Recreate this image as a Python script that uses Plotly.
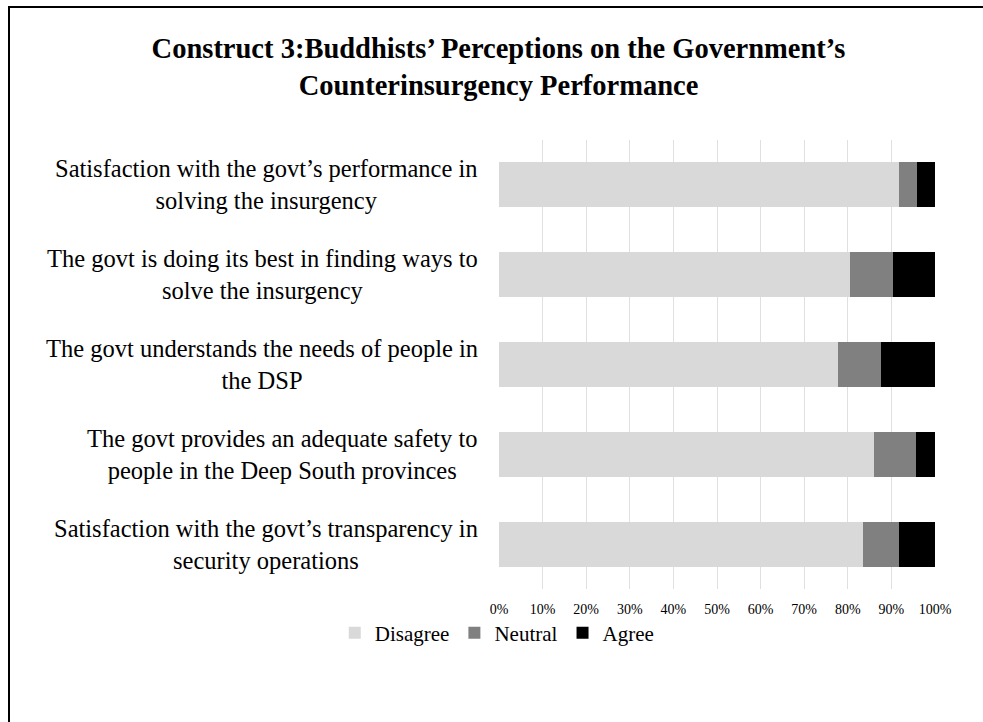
import plotly.graph_objects as go

# Survey statements (top to bottom) and response shares in percent
statements = [
    "Satisfaction with the govt’s performance in<br>solving the insurgency",
    "The govt is doing its best in finding ways to<br>solve the insurgency",
    "The govt understands the needs of people in<br>the DSP",
    "The govt provides an adequate safety to<br>people in the Deep South provinces",
    "Satisfaction with the govt’s transparency in<br>security operations",
]
disagree = [91.7, 80.6, 77.8, 86.1, 83.4]
neutral = [4.1, 9.7, 9.7, 9.6, 8.3]
agree = [4.2, 9.7, 12.5, 4.3, 8.3]

series = [
    ("Disagree", disagree, "#d9d9d9"),
    ("Neutral", neutral, "#808080"),
    ("Agree", agree, "#000000"),
]

x_ticks = list(range(0, 101, 10))
x_tick_text = [f"{v}%" for v in x_ticks]

SERIF = "Liberation Serif, Times New Roman, serif"

fig = go.Figure()
for name, values, color in series:
    fig.add_trace(go.Bar(
        name=name,
        y=statements,
        x=values,
        orientation="h",
        marker=dict(color=color, line=dict(width=0)),
        hoverinfo="x+name",
    ))

# Statement labels: right-aligned block, lines centred within it
annotations = []
for s in statements:
    annotations.append(dict(
        text=s, x=0, xref="paper", y=s, yref="y",
        xanchor="right", yanchor="middle", align="center",
        xshift=-19, showarrow=False,
        font=dict(family=SERIF, size=24.5, color="#000000"),
    ))

fig.update_layout(
    width=983, height=722,
    margin=dict(l=499, r=48, t=140, b=133),
    paper_bgcolor="#ffffff", plot_bgcolor="#ffffff",
    barmode="stack", bargap=0.5,
    font=dict(family=SERIF, color="#000000"),
    title=dict(
        text="<b>Construct 3:Buddhists’ Perceptions on the Government’s<br>Counterinsurgency Performance</b>",
        x=498.5 / 983, xref="container", xanchor="center",
        y=1 - 58 / 722, yref="container", yanchor="top",
        font=dict(family=SERIF, size=28.5, color="#000000"),
    ),
    xaxis=dict(
        range=[0, 100], tickvals=x_ticks, ticktext=x_tick_text,
        showgrid=True, gridcolor="#e0e0e0", gridwidth=1,
        zeroline=False, showline=False, ticks="",
        ticklabelstandoff=10,
        tickfont=dict(family=SERIF, size=14, color="#000000"),
        fixedrange=True,
    ),
    yaxis=dict(
        autorange="reversed", showticklabels=False, showgrid=False,
        zeroline=False, showline=False, ticks="", fixedrange=True,
    ),
    legend=dict(
        orientation="h", x=-0.004, xanchor="center",
        y=-0.098, yanchor="middle",
        bgcolor="rgba(0,0,0,0)",
        font=dict(family=SERIF, size=21, color="#000000"),
        traceorder="normal", itemclick=False, itemdoubleclick=False,
    ),
    annotations=annotations,
    shapes=[dict(
        type="rect", xref="paper", yref="paper",
        x0=(9 - 499) / 436, x1=1.3,
        y0=-0.5, y1=(589 - 7) / 449,
        line=dict(color="#000000", width=2), fillcolor="rgba(0,0,0,0)",
        layer="below",
    )],
)

fig.write_html("out.html", config={"displayModeBar": False})
